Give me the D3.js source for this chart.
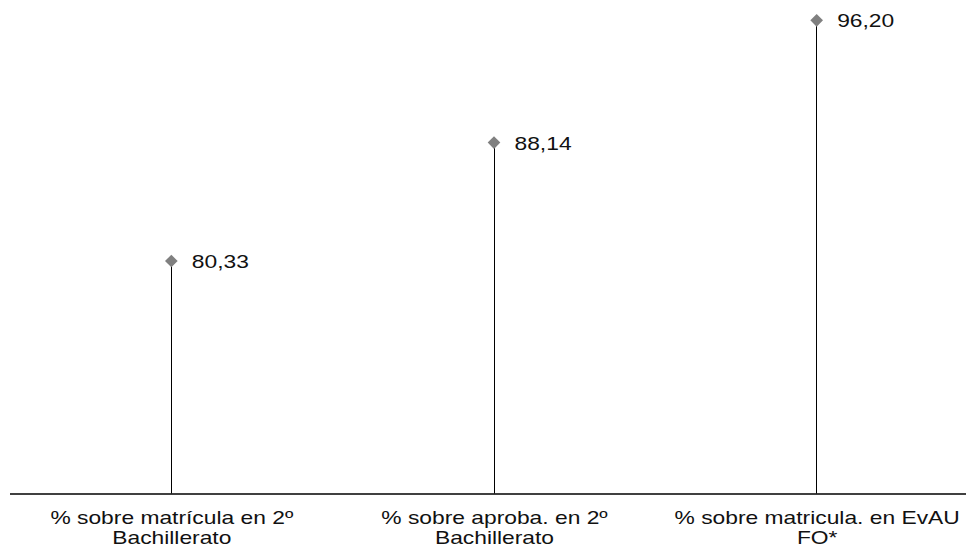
<!DOCTYPE html>
<html><head><meta charset="utf-8">
<script src="https://cdn.jsdelivr.net/npm/d3@7"></script>
<style>html,body{margin:0;padding:0;background:#fff;}svg{display:block;}</style>
</head><body>
<svg id="chart" width="966" height="548"></svg>
<script>
const categories = [
  ["% sobre matrícula en 2º", "Bachillerato"],
  ["% sobre aproba. en 2º", "Bachillerato"],
  ["% sobre matricula. en EvAU", "FO*"]
];
const values = [80.33, 88.14, 96.20];
const valueLabels = ["80,33", "88,14", "96,20"];

const svg = d3.select("#chart");
const stretch = 1.2;
const font = "'Liberation Sans', Arial, sans-serif";

const x = d3.scaleBand().domain(d3.range(categories.length)).range([9.5, 977.5]).padding(0);
const y = d3.scaleLinear().domain([65, 97]).range([493.5, 8.2]);

function stretchText(sel){
  sel.each(function(){
    const w = this.getComputedTextLength();
    d3.select(this).attr("textLength", w*stretch).attr("lengthAdjust","spacingAndGlyphs");
  });
}

// stems
svg.selectAll("line.stem").data(values).join("line")
  .attr("class","stem")
  .attr("x1",(d,i)=>Math.round(x(i)+x.bandwidth()/2)+0.5)
  .attr("x2",(d,i)=>Math.round(x(i)+x.bandwidth()/2)+0.5)
  .attr("y1",d=>y(d))
  .attr("y2",y(65))
  .attr("stroke","#000").attr("stroke-width",1);

// baseline axis
const axis = d3.axisBottom(x).tickSize(0).tickFormat("");
const g = svg.append("g").attr("transform",`translate(0,${y(65)})`).call(axis);
g.select(".domain").attr("stroke","#000").attr("stroke-width",1.4);

// diamonds
const sym = d3.symbol().type(d3.symbolSquare).size(80);
svg.selectAll("path.pt").data(values).join("path")
  .attr("class","pt")
  .attr("d", sym)
  .attr("transform",(d,i)=>`translate(${x(i)+x.bandwidth()/2+0.5},${y(d)}) rotate(45)`)
  .attr("fill","#808080");

// value labels
svg.selectAll("text.val").data(values).join("text")
  .attr("class","val")
  .attr("x",(d,i)=>x(i)+x.bandwidth()/2+21)
  .attr("y",d=>y(d)+7)
  .attr("font-family",font).attr("font-size",19).attr("fill","#111")
  .text((d,i)=>valueLabels[i])
  .call(stretchText);

// category labels
categories.forEach((lines,i)=>{
  lines.forEach((t,j)=>{
    svg.append("text")
      .attr("x",x(i)+x.bandwidth()/2+1)
      .attr("y",524+j*19.5)
      .attr("text-anchor","middle")
      .attr("font-family",font).attr("font-size",19).attr("fill","#111")
      .text(t)
      .call(stretchText);
  });
});
</script>
</body></html>
